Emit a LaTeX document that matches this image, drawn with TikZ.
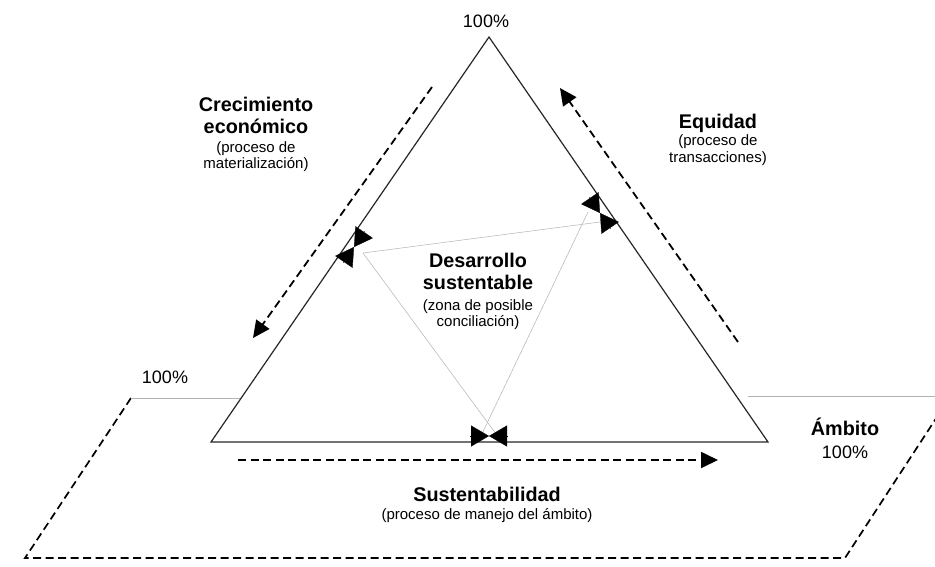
\documentclass[tikz,border=0pt]{standalone}
\usepackage{fontspec}
\setmainfont{Liberation Sans}
\usetikzlibrary{arrows.meta}
\newcommand{\titfont}{\fontsize{19.8}{22}\selectfont\bfseries}
\newcommand{\subfont}{\fontsize{15}{16}\selectfont}
\newcommand{\pctfont}{\fontsize{18}{20}\selectfont}

\begin{document}
\begin{tikzpicture}[x=1pt,y=-1pt,
    side/.style={line width=1.2pt,black!85},
    flow/.style={line width=1.8pt,dash pattern=on 8pt off 4.5pt,-{Triangle[length=17pt,width=16pt]}},
    rim/.style={line width=1.7pt,dash pattern=on 8pt off 4.5pt},
    faint/.style={line width=0.5pt,black!30},
    meet/.style={line width=0.3pt,-{Triangle[length=18pt,width=21pt]}},
    tit/.style={anchor=base,inner sep=0pt,font=\titfont},
    sub/.style={anchor=base,inner sep=0pt,font=\subfont},
    pct/.style={anchor=base,inner sep=0pt,font=\pctfont}]
       \useasboundingbox (0,0) rectangle (935,566);
       % triangle corners
       \coordinate (top) at (489,37);
       \coordinate (bl)  at (211,442);
       \coordinate (br)  at (768,442);
       \draw[side] (top) -- (bl) -- (br) -- cycle;
       % base plane
       \coordinate (p1) at (131,398);
       \coordinate (p2) at (25,558);
       \coordinate (p3) at (845,558);
       \coordinate (p4) at (950,397);
       \coordinate (q1) at (240,398);
       \coordinate (q2) at (748,396);
       \coordinate (q3) at (935,396);
       \draw[rim] (p1) -- (p2) -- (p3) -- (p4);
       \draw[faint] (p1) -- (q1);
       \draw[faint] (q2) -- (q3);
       % inner zone
       \coordinate (zl)  at (363,253);
       \coordinate (zr1) at (600,222);
       \coordinate (zr2) at (588,212);
       \coordinate (zb1) at (499,438);
       \coordinate (zb2) at (480,438);
       \draw[faint] (zl) -- (zr1);
       \draw[faint] (zl) -- (zb1);
       \draw[faint] (zr2) -- (zb2);
       % meeting tips
       \coordinate (ml) at (354,247);
       \coordinate (mr) at (600,213);
       \coordinate (mb) at (489,436);
       \draw[meet] (364.8,231.2) -- (ml);
       \draw[meet] (343.2,262.8) -- (ml);
       \draw[meet] (589.2,197.2) -- (mr);
       \draw[meet] (610.8,228.8) -- (mr);
       \draw[meet] (470,436) -- (mb);
       \draw[meet] (508,436) -- (mb);
       % process arrows
       \coordinate (a1) at (432,87);
       \coordinate (a2) at (253,338);
       \coordinate (b1) at (738,342);
       \coordinate (b2) at (560,88);
       \coordinate (c1) at (238,460);
       \coordinate (c2) at (718,460);
       \draw[flow] (a1) -- (a2);
       \draw[flow] (b1) -- (b2);
       \draw[flow] (c1) -- (c2);
       % labels
       \node[pct] (pcttop)  at (486,27)  {100\%};
       \node[pct] (pctleft) at (165,383) {100\%};
       \node[tit] (amb)     at (845,435) {Ámbito};
       \node[pct] (pctamb)  at (845,458) {100\%};
       \node[tit] (cre1) at (256,111) {Crecimiento};
       \node[tit] (cre2) at (256,133) {económico};
       \node[sub] (cre3) at (256,152) {(proceso de};
       \node[sub] (cre4) at (256,168) {materialización)};
       \node[tit] (equ1) at (718,128) {Equidad};
       \node[sub] (equ2) at (718,145) {(proceso de};
       \node[sub] (equ3) at (718,162) {transacciones)};
       \node[tit] (des1) at (478,267) {Desarrollo};
       \node[tit] (des2) at (478,289) {sustentable};
       \node[sub] (des3) at (478,310) {(zona de posible};
       \node[sub] (des4) at (478,326) {conciliación)};
       \node[tit] (sus1) at (487,501) {Sustentabilidad};
       \node[sub] (sus2) at (487,519) {(proceso de manejo del ámbito)};
      \end{tikzpicture}
\end{document}
